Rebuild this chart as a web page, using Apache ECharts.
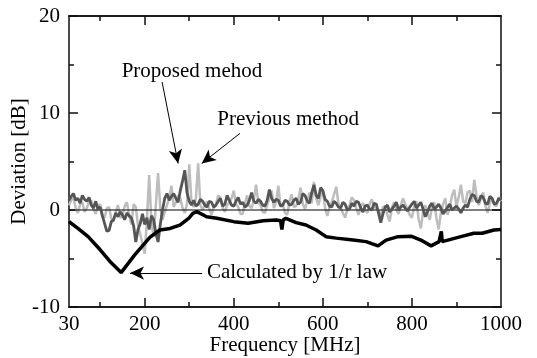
<!DOCTYPE html>
<html>
<head>
<meta charset="utf-8">
<script src="https://cdn.jsdelivr.net/npm/echarts@6/dist/echarts.min.js"></script>
<style>
  html, body { margin: 0; padding: 0; background: #fff; }
  #chart { width: 537px; height: 358px; }
</style>
</head>
<body>
<div id="chart"></div>
<script>
// frequency grid of the measured traces [MHz]
const freqs = [30, 35, 40, 45, 50, 55, 60, 65, 70, 75, 80, 85, 90, 95, 100, 105, 110, 115, 120, 125,
  130, 135, 140, 145, 150, 155, 160, 165, 170, 175, 180, 185, 190, 195, 200, 205, 210, 215, 220, 225,
  230, 235, 240, 245, 250, 255, 260, 265, 270, 275, 280, 285, 290, 295, 300, 305, 310, 315, 320, 325,
  330, 335, 340, 345, 350, 355, 360, 365, 370, 375, 380, 385, 390, 395, 400, 405, 410, 415, 420, 425,
  430, 435, 440, 445, 450, 455, 460, 465, 470, 475, 480, 485, 490, 495, 500, 505, 510, 515, 520, 525,
  530, 535, 540, 545, 550, 555, 560, 565, 570, 575, 580, 585, 590, 595, 600, 605, 610, 615, 620, 625,
  630, 635, 640, 645, 650, 655, 660, 665, 670, 675, 680, 685, 690, 695, 700, 705, 710, 715, 720, 725,
  730, 735, 740, 745, 750, 755, 760, 765, 770, 775, 780, 785, 790, 795, 800, 805, 810, 815, 820, 825,
  830, 835, 840, 845, 850, 855, 860, 865, 870, 875, 880, 885, 890, 895, 900, 905, 910, 915, 920, 925,
  930, 935, 940, 945, 950, 955, 960, 965, 970, 975, 980, 985, 990, 995, 1000]

// previous method (light gray) [dB]
const previousDev = [0.5, 1.0, 1.3, 0.2, -0.3, 0.6, 0.8, -0.2, 0.2, 0.9, 1.0, 0.1, -0.4, 0.4, 0.6, -0.5, -0.8, 0.2, 0.3, -0.9,
  -1.2, -0.2, 0.5, -0.8, -0.6, 0.4, 0.8, -0.5, -1.5, 0.6, 0.3, -1.6, -2.5, -3.5, -4.5, -1.0, 3.6, -1.2, -2.8, 0.5,
  3.8, 0.2, -1.0, -0.2, 0.5, 1.2, 2.5, 0.3, 0.8, 1.5, 1.2, 0.2, -0.3, 0.6, 4.7, 0.8, 0.3, 1.2, 4.8, 0.5,
  0.0, 0.5, 0.9, 0.1, -0.5, 0.3, 0.6, 1.5, 1.3, 0.2, -0.2, 0.5, 0.8, 1.2, 2.0, 0.6, 0.3, -0.4, -0.4, 0.7,
  1.5, 0.4, 0.2, 1.0, 2.6, 0.8, 0.5, -0.2, -0.3, 0.5, 1.2, 2.0, 0.2, 0.8, 2.5, 0.4, 0.6, -0.3, -0.5, 0.9,
  1.6, 0.3, 0.4, 1.1, 2.3, 0.6, 0.1, 1.0, 1.8, 0.7, 2.9, 1.2, 0.5, 1.4, 1.9, 0.2, -0.6, 0.3, 0.8, 1.6,
  2.4, 0.7, 0.2, -0.3, -0.8, 0.1, 0.5, 1.3, 1.0, 0.2, -0.5, 0.4, 0.7, 0.0, -0.3, 0.6, 1.1, 0.3, 0.2, -0.1,
  -0.6, 0.3, 0.4, -0.5, -1.2, 0.2, 0.8, 0.0, -0.4, 0.5, 1.2, 0.6, 0.1, -0.5, -0.8, 0.4, 0.9, -0.9, -1.9, -0.2,
  0.5, -0.4, -1.0, 0.3, 0.8, -0.8, -2.0, -0.3, 0.6, 1.2, -0.5, 0.3, 1.5, 2.1, 0.3, 1.3, 2.6, 0.9, 0.7, 1.8,
  2.0, 0.8, 3.1, 1.5, 0.5, 1.2, 1.8, 0.4, -0.3, 0.7, 1.2, 0.5, 0.4, 1.3, 0.9]

// proposed method (dark gray) [dB]
const proposedDev = [1.0, 1.4, 1.7, 1.0, 1.2, 0.7, 1.5, 1.1, 0.9, 1.3, 0.5, 0.2, 0.9, 0.1, 0.3, -0.6, -1.4, -2.2, -2.1, -1.2,
  -1.0, -0.3, -0.7, -0.2, -0.5, -1.0, -0.3, -0.6, -0.8, -1.6, -3.3, -2.0, -1.4, -0.4, -1.5, -0.8, -2.0, -0.6, -1.0, -2.4,
  -3.3, -1.5, 0.0, 1.2, 1.7, 1.0, 1.4, 1.7, 1.2, 0.8, 2.0, 3.0, 4.1, 1.8, 0.9, 0.5, 1.0, 0.4, 0.6, 1.1,
  0.9, 0.5, 0.3, 0.9, 0.8, 0.3, 0.5, 0.9, 1.2, 0.4, 0.6, 1.5, 1.0, 0.5, 0.4, 0.9, 1.3, 0.6, 0.8, 0.3,
  0.5, 1.0, 1.8, 0.9, 0.7, 1.1, 0.9, 0.5, 0.4, 1.0, 2.1, 1.2, 0.8, 1.1, 1.0, 0.4, 0.5, 1.0, 0.9, 0.5,
  0.6, 1.0, 1.2, 0.6, 0.8, 1.7, 1.5, 0.9, 0.7, 1.8, 2.6, 1.5, 1.2, 2.3, 2.0, 1.1, 0.9, 0.4, 0.3, 0.9,
  0.7, 0.3, 0.2, 0.8, 0.6, 0.0, 0.1, 0.7, 0.4, 0.9, 0.8, 0.2, -0.2, 0.4, 0.5, 0.1, 0.0, 0.7, 0.6, -0.3,
  -1.3, -0.4, 0.3, 0.5, -0.2, 0.1, 0.4, 0.8, 0.0, 0.3, 0.5, 0.2, -0.1, 0.3, 0.6, 0.9, 0.2, 0.5, 0.8, 0.1,
  -0.7, -0.2, 0.4, 0.7, 0.1, 0.3, 0.6, 0.2, -0.4, -0.1, 0.3, 0.6, 0.0, 0.2, 0.4, 0.1, -0.3, 0.2, 0.5, 0.3,
  1.1, 1.6, 1.5, 0.9, 0.8, 1.5, 1.3, 0.7, 0.6, 1.4, 1.2, 0.6, 0.7, 1.2, 1.0]

// calculated by 1/r law (black)
const calcFreq = [30, 50, 73, 100, 122, 147, 178, 212, 234, 257, 279, 300, 308, 317, 339, 362, 400, 432, 466, 495,
  505, 508, 511, 517, 540, 562, 585, 607, 630, 668, 697, 724, 742, 769, 798, 820, 843, 861, 866, 868,
  872, 910, 939, 958, 984, 1000]
const calcDev = [-1.2, -1.9, -2.75, -4.1, -5.3, -6.45, -4.6, -2.8, -2.06, -1.9, -1.55, -0.8, -0.34, -0.17, -0.7, -0.85, -1.2, -1.37, -1.1, -1.03,
  -1.1, -2.0, -1.0, -0.86, -1.3, -1.55, -2.06, -2.75, -2.9, -3.1, -3.26, -3.7, -3.1, -2.75, -2.7, -3.1, -3.7, -3.26, -2.2, -3.26,
  -3.26, -2.75, -2.4, -2.4, -2.06, -2.0]

const xLabelValues = [30, 200, 400, 600, 800, 1000]
const xMajorTicks = [200, 400, 600, 800]
const xMinorTicks = [100, 300, 500, 700, 900]

const font = 'Liberation Serif'
const chart = echarts.init(document.getElementById('chart'))

const pairs = (xs, ys) => xs.map((x, i) => [x, ys[i]])

const frameLine = { show: true, onZero: false, lineStyle: { color: '#111', width: 1.5 } }

// x axes: bottom/top, major and minor ticks on separate axes
const xBase = (pos, ticks, len, labels) => ({
  type: 'value',
  position: pos,
  min: 30,
  max: 1000,
  axisLine: frameLine,
  splitLine: { show: false },
  axisTick: { show: true, inside: true, length: len, customValues: ticks, lineStyle: { color: '#111', width: 1.5 } },
  axisLabel: labels
    ? { show: true, customValues: xLabelValues, formatter: v => String(v), color: '#000', fontFamily: font, fontSize: 21, margin: 7 }
    : { show: false }
})

const yBase = (pos, labels) => ({
  type: 'value',
  position: pos,
  min: -10,
  max: 20,
  interval: 10,
  axisLine: frameLine,
  splitLine: { show: false },
  axisTick: { show: true, inside: true, length: 9, lineStyle: { color: '#111', width: 1.5 } },
  minorTick: { show: true, splitNumber: 2, length: 5, lineStyle: { color: '#111', width: 1.5 } },
  axisLabel: labels
    ? { show: true, color: '#000', fontFamily: font, fontSize: 21, margin: 9 }
    : { show: false }
})

const annotText = (text, f, v) => ({
  coord: [f, v],
  value: text,
  symbol: 'rect',
  symbolSize: 1,
  itemStyle: { color: 'rgba(0,0,0,0)' },
  label: { show: true, position: 'inside', formatter: text, color: '#000', fontFamily: font, fontSize: 21 }
})

const option = {
  animation: false,
  grid: { left: 69, right: 36, top: 16, bottom: 51, outerBoundsMode: 'none', containLabel: false },
  xAxis: [
    Object.assign(xBase('bottom', xMajorTicks, 9, true), {
      name: 'Frequency [MHz]',
      nameLocation: 'middle',
      nameGap: 28,
      nameMoveOverlap: false,
      nameTextStyle: { color: '#000', fontFamily: font, fontSize: 21 }
    }),
    xBase('bottom', xMinorTicks, 5, false),
    xBase('top', xMajorTicks, 9, false),
    xBase('top', xMinorTicks, 5, false)
  ],
  yAxis: [
    Object.assign(yBase('left', true), {
      name: 'Deviation [dB]',
      nameLocation: 'middle',
      nameGap: 39,
      nameMoveOverlap: false,
      nameTextStyle: { color: '#000', fontFamily: font, fontSize: 21 }
    }),
    yBase('right', false)
  ],
  series: [
    {
      name: 'Previous method',
      type: 'line',
      data: pairs(freqs, previousDev),
      showSymbol: false,
      lineStyle: { color: '#bdbdbd', width: 2.5 },
      z: 2
    },
    {
      name: 'zero',
      type: 'line',
      data: [[30, 0], [1000, 0]],
      showSymbol: false,
      lineStyle: { color: '#000', width: 1 },
      z: 3
    },
    {
      name: 'Proposed method',
      type: 'line',
      data: pairs(freqs, proposedDev),
      showSymbol: false,
      lineStyle: { color: '#555', width: 2.8 },
      z: 4
    },
    {
      name: 'Calculated by 1/r law',
      type: 'line',
      data: pairs(calcFreq, calcDev),
      showSymbol: false,
      lineStyle: { color: '#000', width: 3.5 },
      z: 5,
      markLine: {
        silent: true,
        symbol: ['none', 'arrow'],
        symbolSize: [10, 14],
        label: { show: false },
        lineStyle: { color: '#000', width: 1, type: 'solid' },
        itemStyle: { color: '#000' },
        data: [
          [{ coord: [239, 13.2] }, { coord: [275, 4.8] }],
          [{ coord: [414, 7.9] }, { coord: [328, 4.8] }],
          [{ coord: [329, -6.5] }, { coord: [167, -6.5] }]
        ]
      },
      markPoint: {
        silent: true,
        data: [
          annotText('Proposed mehod', 306, 14.3),
          annotText('Previous method', 522, 9.3),
          annotText('Calculated by 1/r law', 542, -6.4)
        ]
      }
    }
  ]
}

chart.setOption(option)
</script>
</body>
</html>
